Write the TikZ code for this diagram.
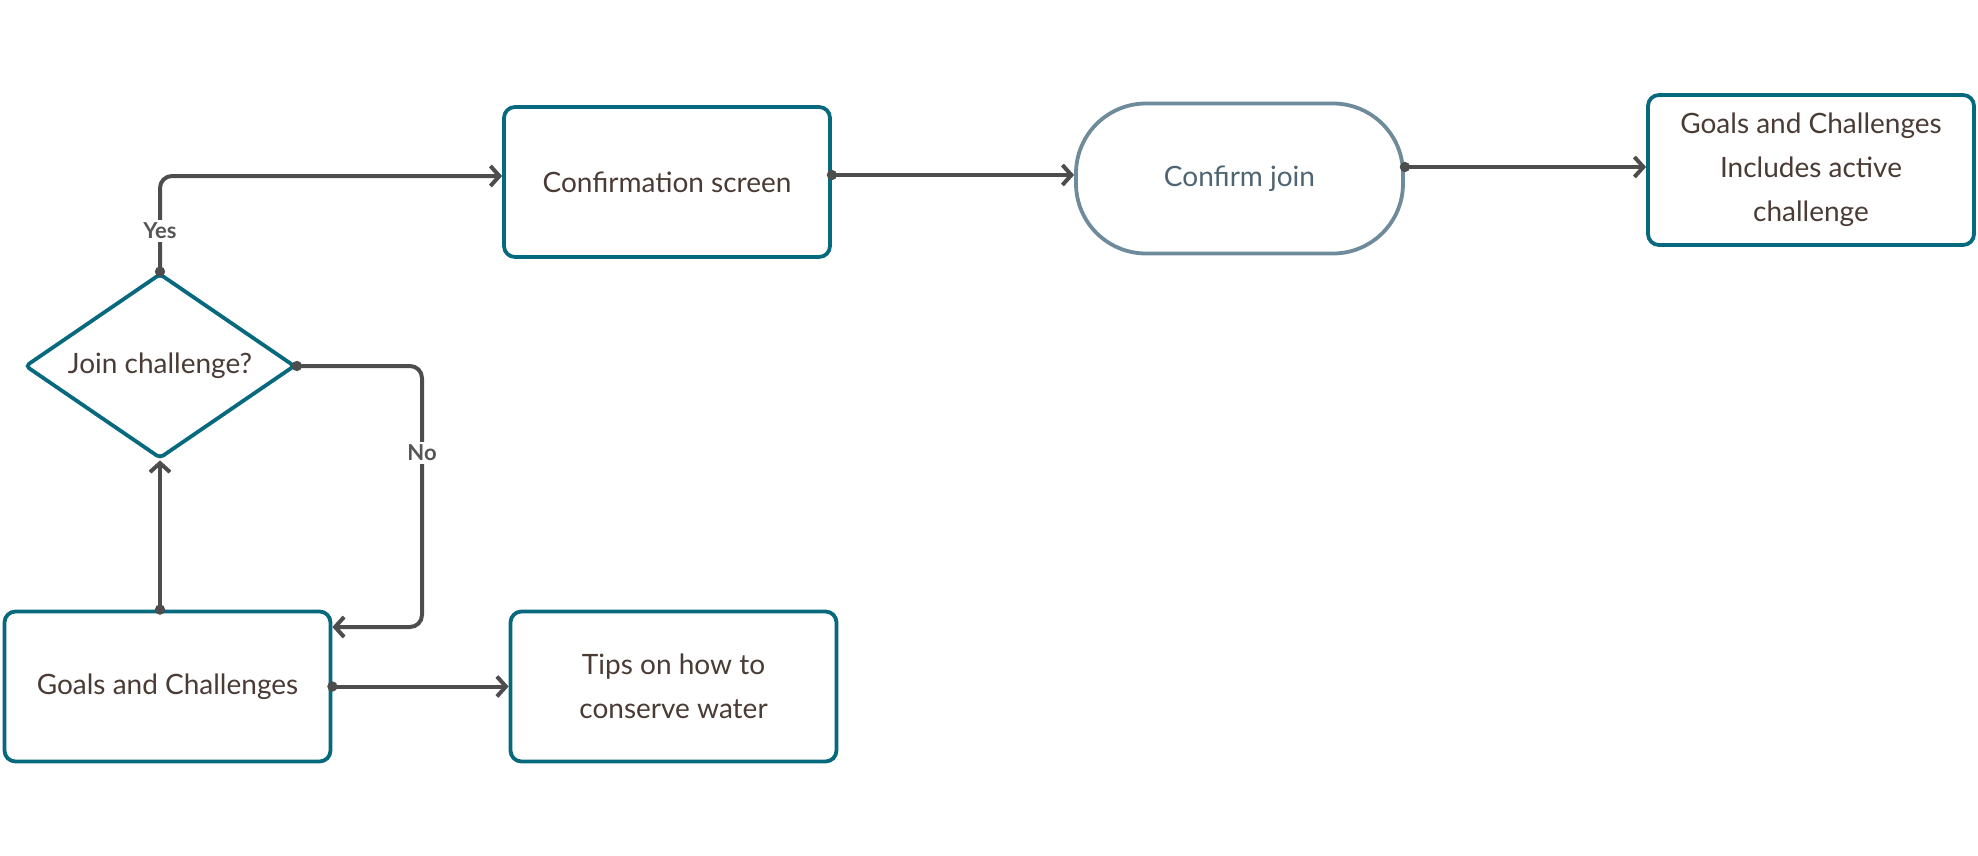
\documentclass[tikz,border=0pt]{standalone}
\usepackage{fontspec}
\setmainfont{Lato}
\usetikzlibrary{shapes.geometric,arrows.meta}
\definecolor{teal}{HTML}{07697E}
\definecolor{slate}{HTML}{6E8B9B}
\definecolor{txt}{HTML}{4A3B35}
\definecolor{cjtxt}{HTML}{4F6472}
\definecolor{wire}{HTML}{4D4D4D}
\definecolor{lbl}{HTML}{555555}
\tikzset{
  box/.style={draw=teal, line width=3.8pt, rounded corners=11pt, fill=white,
    minimum width=326pt, minimum height=150pt, align=center, text=txt,
    font=\fontsize{28}{44}\selectfont, inner sep=0pt},
  term/.style={draw=slate, line width=3.8pt, rounded corners=70pt, fill=white,
    minimum width=327pt, minimum height=150pt, align=center, text=cjtxt,
    font=\fontsize{28}{44}\selectfont, inner sep=0pt},
  decide/.style={diamond, draw=teal, line width=3.8pt, rounded corners=4pt,
    minimum width=270pt, minimum height=185pt, inner sep=0pt, text=txt,
    font=\fontsize{28}{44}\selectfont},
  wirestyle/.style={draw=wire, line width=4pt, rounded corners=12pt, shorten <=-5pt,
    {Circle[length=10pt,width=10pt]}-{Straight Barb[length=9pt,width=20pt,line width=4pt]}},
  edgelabel/.style={fill=white, text=lbl, font=\bfseries\fontsize{22}{24}\selectfont, inner sep=3pt}
}
\begin{document}
\begin{tikzpicture}[x=1pt,y=-1pt]
\useasboundingbox (0,0) rectangle (1978,856);
\node[box] (conf) at (667,182) {Confirmation screen};
\node[term] (cj) at (1239.5,178.5) {Confirm join};
\node[box] (gc2) at (1811,170) {Goals and Challenges\\Includes active\\challenge};
\node[decide] (dia) at (160,366) {\makebox[0pt][c]{Join challenge?}};
\node[box] (gc) at (167.5,686.5) {Goals and Challenges};
\node[box] (tips) at (673.5,686.5) {Tips on how to\\conserve water};
\coordinate (yesc) at (160,176);
\coordinate (noc) at (422,627);
% Yes
\draw[wirestyle] (dia.north) -- (yesc) -- (yesc -| conf.west);
\node[edgelabel] (yes) at (160,231) {Yes};
% No
\draw[wirestyle] (dia.east) -| (noc) -- (noc -| gc.east);
\node[edgelabel] (no) at (422,453) {No};
% up
\draw[wirestyle] (dia.south |- gc.north) -- (dia.south);
% tips
\draw[wirestyle] (gc.east) -- (tips.west);
% confirmation -> confirm join
\coordinate (c1) at (conf.east |- 0,175);
\draw[wirestyle] (c1) -- (c1 -| cj.west);
% confirm join -> goals
\coordinate (c2) at (cj.east |- 0,167);
\draw[wirestyle] (c2) -- (c2 -| gc2.west);
\end{tikzpicture}
\end{document}
